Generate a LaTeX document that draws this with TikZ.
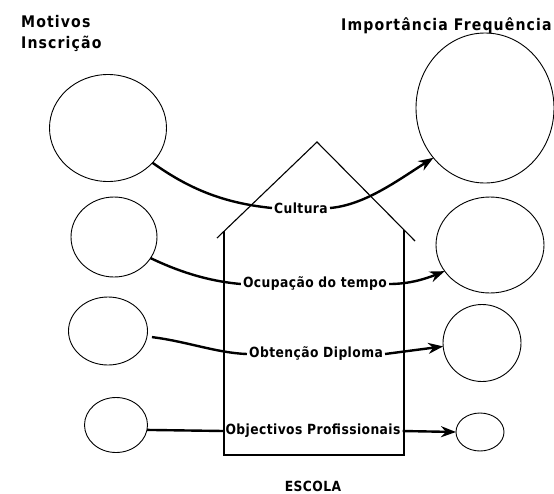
\documentclass[tikz,border=0pt]{standalone}
\usepackage{fontspec}
\newfontfamily\labfont{DejaVu Sans}[FakeStretch=0.88,LetterSpace=3]
\newfontfamily\titfont{DejaVu Sans}[FakeStretch=0.88,LetterSpace=7]
\usetikzlibrary{shapes.geometric,arrows.meta}
\begin{document}
\begin{tikzpicture}[x=1pt,y=-1pt,
  circ/.style={ellipse,draw,line width=0.9pt,inner sep=0pt,outer sep=0pt},
  lab/.style={font=\labfont\bfseries\fontsize{14}{16}\selectfont,inner sep=2pt},
  tit/.style={font=\titfont\bfseries\fontsize{16}{18}\selectfont,inner sep=0pt},
  conn/.style={line width=2.4pt},
  arr/.style={conn,-{Stealth[length=15pt,width=11pt]}},
  house/.style={line width=1.1pt}]
\useasboundingbox (0,0) rectangle (554,493);
% titles
\node[tit,anchor=base west] (t1) at (21,27) {Motivos};
\node[tit,anchor=base west] (t2) at (21,48) {Inscrição};
\node[tit,anchor=base west] (t3) at (341,30) {Importância Frequência};
% left circles
\node[circ,minimum width=117pt,minimum height=107pt] (L1) at (108,128) {};
\node[circ,minimum width=86pt,minimum height=80pt] (L2) at (114,237) {};
\node[circ,minimum width=79pt,minimum height=68pt] (L3) at (108,331) {};
\node[circ,minimum width=63pt,minimum height=55pt] (L4) at (116,425) {};
% right circles
\node[circ,minimum width=138pt,minimum height=150pt] (R1) at (485,108) {};
\node[circ,minimum width=108pt,minimum height=96pt] (R2) at (490,245) {};
\node[circ,minimum width=78pt,minimum height=77pt] (R3) at (482,343) {};
\node[circ,minimum width=48pt,minimum height=38pt] (R4) at (480,432) {};
% house
\coordinate (apex) at (317,142);
\coordinate (roofL) at (217,238);
\coordinate (roofR) at (415,241);
\coordinate (wTL) at (224,231);
\coordinate (wTR) at (404,230);
\coordinate (wBL) at (224,455);
\coordinate (wBR) at (404,455);
\draw[house] (roofL) -- (apex) -- (roofR);
\draw[house] (wTL) -- (wBL) -- (wBR) -- (wTR);
% labels
\node[lab] (C) at (301,208) {Cultura};
\node[lab] (O) at (315,284) {Ocupação do tempo};
\node[lab] (D) at (316,354) {Obtenção Diploma};
\node[lab] (P) at (313,431) {Objectivos Profissionais};
\node[lab] (E) at (313,486) {ESCOLA};
% connectors
\draw[conn] (L1.-38) .. controls +(35,25) and +(-50,-5) .. (C.west);
\draw[arr] (C.east) .. controls +(35,-3) and +(-35,22) .. (R1.224);
\draw[conn] (L2.-30) .. controls +(25,12) and +(-35,-3) .. (O.west);
\draw[arr] (O.east) .. controls +(20,0) and +(-20,8) .. (R2.210);
\draw[conn,shorten <=5pt] (L3.-8) .. controls +(40,5) and +(-30,-1) .. (D.west);
\draw[arr] (D.east) -- (R3.185);
\draw[conn] (L4.-9) -- (P.west);
\draw[arr] (P.east) -- (R4.west);
\end{tikzpicture}
\end{document}
